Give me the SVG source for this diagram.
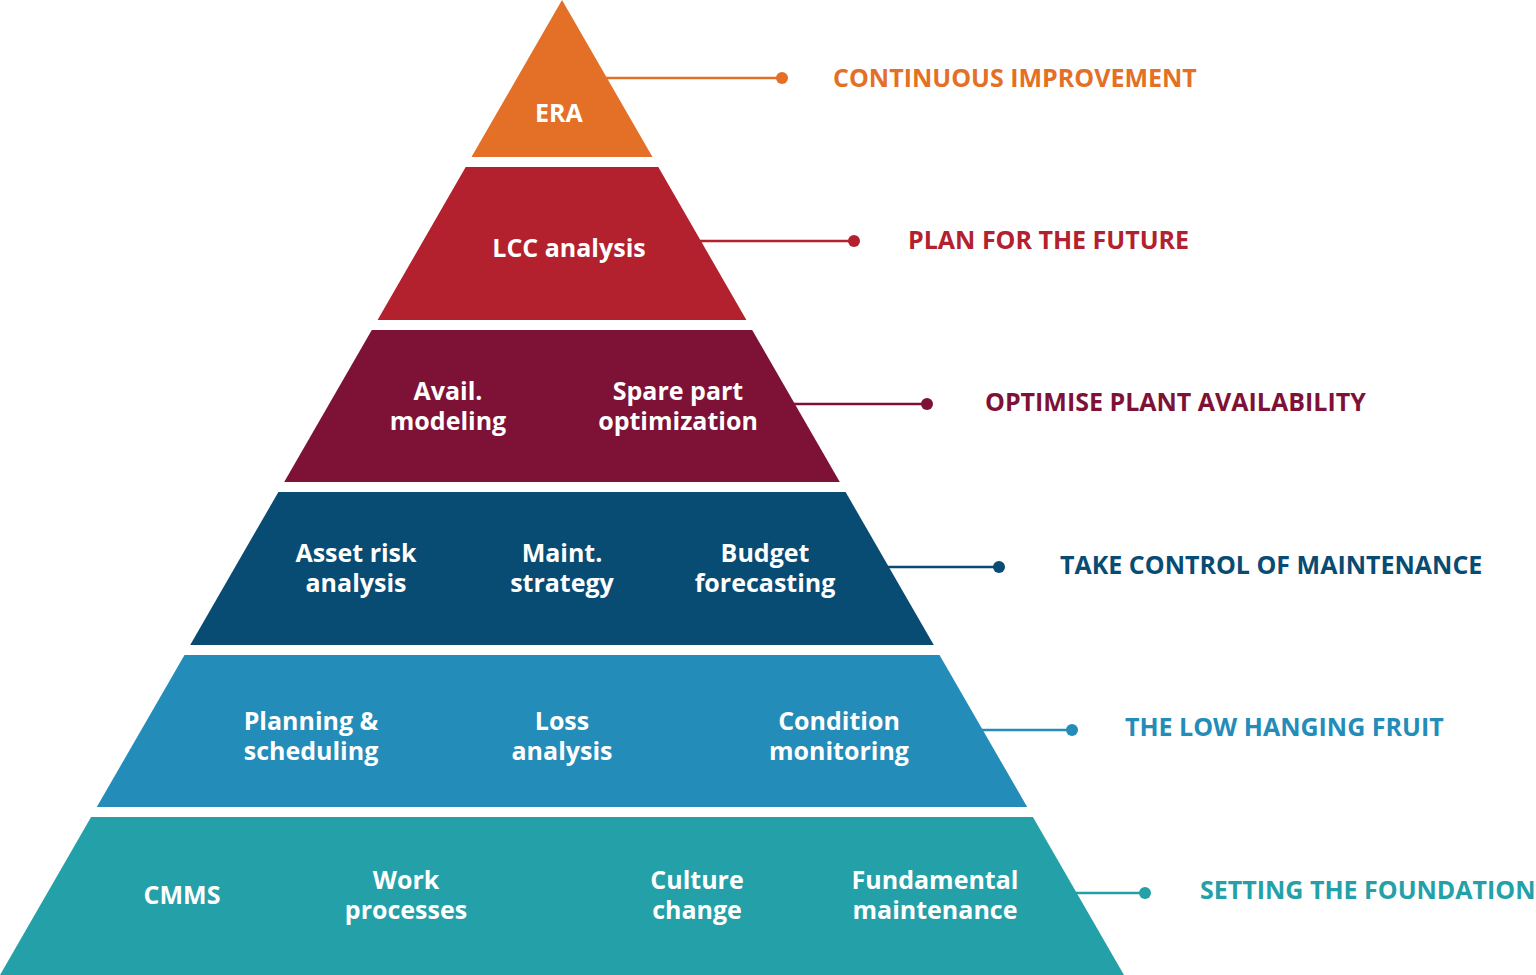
<svg xmlns="http://www.w3.org/2000/svg" width="1536" height="975" viewBox="0 0 1536 975">
<style>
.in{font-family:"Open Sans","Liberation Sans",sans-serif;font-weight:700;font-size:25px;fill:#fff;text-anchor:middle}
.lb{font-family:"Open Sans","Liberation Sans",sans-serif;font-weight:700;font-size:25px}
.c1{fill:#E37026}.c2{fill:#B3202E}.c3{fill:#7E1236}.c4{fill:#084B73}.c5{fill:#248CB8}.c6{fill:#24A1A8}
.l{stroke-width:2.5;fill:none}
</style>
<rect width="1536" height="975" fill="#fff"/>
<g id="connectors">
<line class="l" x1="600" y1="78" x2="782" y2="78" stroke="#E37026"/><circle cx="782" cy="78" r="6" fill="#E37026"/>
<line class="l" x1="695" y1="241" x2="854" y2="241" stroke="#B3202E"/><circle cx="854" cy="241" r="6" fill="#B3202E"/>
<line class="l" x1="790" y1="404" x2="927" y2="404" stroke="#7E1236"/><circle cx="927" cy="404" r="6" fill="#7E1236"/>
<line class="l" x1="884" y1="567" x2="999" y2="567" stroke="#084B73"/><circle cx="999" cy="567" r="6" fill="#084B73"/>
<line class="l" x1="978" y1="730" x2="1072" y2="730" stroke="#248CB8"/><circle cx="1072" cy="730" r="6" fill="#248CB8"/>
<line class="l" x1="1072" y1="893" x2="1145" y2="893" stroke="#24A1A8"/><circle cx="1145" cy="893" r="6" fill="#24A1A8"/>
</g>
<g id="tier1">
<polygon class="c1" points="562,0 652.5,157 471.5,157"/>
<text class="in" x="559" y="122">ERA</text>
<text class="lb c1" x="833" y="87">CONTINUOUS IMPROVEMENT</text>
</g>
<g id="tier2">
<polygon class="c2" points="465.7,167 658.3,167 746.4,320 377.6,320"/>
<text class="in" x="569" y="257">LCC analysis</text>
<text class="lb c2" x="908" y="249">PLAN FOR THE FUTURE</text>
</g>
<g id="tier3">
<polygon class="c3" points="371.8,330 752.2,330 839.8,482 284.2,482"/>
<text class="in" x="448" y="400">Avail.<tspan x="448" dy="30">modeling</tspan></text>
<text class="in" x="678" y="400">Spare part<tspan x="678" dy="30">optimization</tspan></text>
<text class="lb c3" x="985" y="411">OPTIMISE PLANT AVAILABILITY</text>
</g>
<g id="tier4">
<polygon class="c4" points="278.4,492 845.6,492 933.8,645 190.2,645"/>
<text class="in" x="356" y="562">Asset risk<tspan x="356" dy="30">analysis</tspan></text>
<text class="in" x="562" y="562">Maint.<tspan x="562" dy="30">strategy</tspan></text>
<text class="in" x="765" y="562">Budget<tspan x="765" dy="30">forecasting</tspan></text>
<text class="lb c4" x="1060" y="574">TAKE CONTROL OF MAINTENANCE</text>
</g>
<g id="tier5">
<polygon class="c5" points="184.5,655 939.5,655 1027.2,807 96.8,807"/>
<text class="in" x="311" y="730">Planning &amp;<tspan x="311" dy="30">scheduling</tspan></text>
<text class="in" x="562" y="730">Loss<tspan x="562" dy="30">analysis</tspan></text>
<text class="in" x="839" y="730">Condition<tspan x="839" dy="30">monitoring</tspan></text>
<text class="lb c5" x="1125" y="736">THE LOW HANGING FRUIT</text>
</g>
<g id="tier6">
<polygon class="c6" points="91.1,817 1032.9,817 1124,975 0,975"/>
<text class="in" x="182" y="904">CMMS</text>
<text class="in" x="406" y="889">Work<tspan x="406" dy="30">processes</tspan></text>
<text class="in" x="697" y="889">Culture<tspan x="697" dy="30">change</tspan></text>
<text class="in" x="935" y="889">Fundamental<tspan x="935" dy="30">maintenance</tspan></text>
<text class="lb c6" x="1200" y="899">SETTING THE FOUNDATION</text>
</g>
</svg>
